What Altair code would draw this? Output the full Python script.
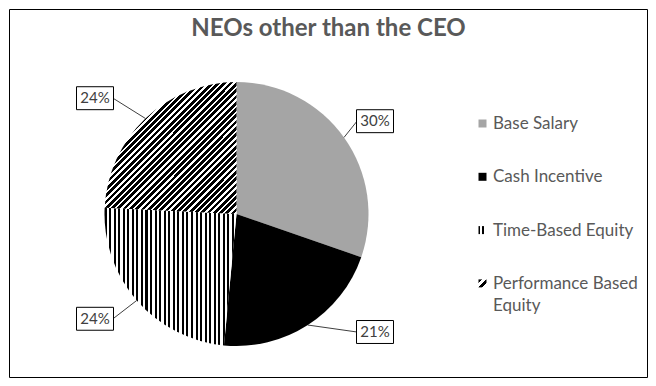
import altair as alt
import pandas as pd

# ---- data ----
categories = ["Base Salary", "Cash Incentive", "Time-Based Equity", "Performance Based Equity"]
values = [30, 21, 24, 24]
title_text = "NEOs other than the CEO"

df = pd.DataFrame({"category": categories, "value": values, "idx": list(range(len(categories)))})

# ---- layout (pixels inside the chart) ----
OFF = 9
W, H = 638, 368
CX, CY, R = 236.5 - OFF, 214 - OFF, 132
FONT = "Lato"


def stripes(n, duty, x2, y2, dark="#000000", light="#FFFFFF"):
    stops = []
    for i in range(n):
        a, b, c = i / n, (i + duty) / n, (i + 1) / n
        stops += [
            {"offset": round(a, 5), "color": dark},
            {"offset": round(b, 5), "color": dark},
            {"offset": round(b, 5), "color": light},
            {"offset": round(c, 5), "color": light},
        ]
    return {"gradient": "linear", "x1": 0, "y1": 0, "x2": x2, "y2": y2, "stops": stops}


slice_fill = {
    "Base Salary": "#A5A5A5",
    "Cash Incentive": "#000000",
    "Time-Based Equity": stripes(29, 0.45, 1, 0),
    "Performance Based Equity": stripes(42, 0.6, 1, 1),
}
legend_fill = {
    "Base Salary": "#A5A5A5",
    "Cash Incentive": "#000000",
    "Time-Based Equity": stripes(2, 0.3, 1, 0),
    "Performance Based Equity": stripes(2, 0.45, 1, 1),
}

base = (
    alt.Chart(df)
    .transform_joinaggregate(total="sum(value)")
    .transform_window(cum="sum(value)", sort=[alt.SortField("idx")], frame=[None, 0])
    .transform_calculate(
        a0="2*PI*(datum.cum - datum.value)/datum.total",
        a1="2*PI*datum.cum/datum.total",
        pct="format(datum.value/datum.total, '.0%')",
    )
    .transform_calculate(mid="(datum.a0 + datum.a1)/2")
    .transform_calculate(side="sin(datum.mid) > 0 ? 1 : -1")
    .transform_calculate(
        lx=f"{CX} + (datum.side > 0 ? 138.5 : -141.5)",
        ly=f"{CY} + clamp(-160*cos(datum.mid), -118, 118)",
        px=f"{CX} + {R}*sin(datum.mid)",
        py=f"{CY} - {R}*cos(datum.mid)",
    )
    .transform_calculate(ex="datum.lx - datum.side*18")
)

layers = []
for cat in categories:
    layers.append(
        base.transform_filter(alt.datum.category == cat)
        .mark_arc(fill=slice_fill[cat], outerRadius=R)
        .encode(
            theta=alt.Theta("a0:Q", scale=None),
            theta2="a1:Q",
            x=alt.value(CX),
            y=alt.value(CY),
        )
    )

leaders = base.mark_rule(color="#404040", strokeWidth=1).encode(
    x=alt.X("px:Q", scale=None),
    y=alt.Y("py:Q", scale=None),
    x2="ex:Q",
    y2="ly:Q",
)
boxes = base.mark_point(
    shape="M-1,-0.62H1V0.62H-1Z", size=37 * 37, filled=True, fill="#FFFFFF",
    stroke="#000000", strokeWidth=1, opacity=1,
).encode(x=alt.X("lx:Q", scale=None), y=alt.Y("ly:Q", scale=None))
labels = base.mark_text(font=FONT, fontSize=15, color="#404040", align="center", baseline="middle").encode(
    x=alt.X("lx:Q", scale=None), y=alt.Y("ly:Q", scale=None), text="pct:N"
)
layers += [leaders, boxes, labels]

leg = alt.Chart(df).transform_calculate(
    sy=f"{123.5 - OFF} + datum.idx*53.3",
    lbl="replace(datum.category, 'Performance Based ', 'Performance Based\\n')",
)
for cat in categories:
    layers.append(
        leg.transform_filter(alt.datum.category == cat)
        .mark_point(shape="square", size=64, filled=True, fill=legend_fill[cat], opacity=1)
        .encode(x=alt.value(482.5 - OFF), y=alt.Y("sy:Q", scale=None))
    )
layers.append(
    leg.transform_calculate(ty="datum.sy + 5.5")
    .mark_text(font=FONT, fontSize=17, color="#595959", align="left", baseline="alphabetic",
               lineBreak="\n", lineHeight=22)
    .encode(x=alt.value(493 - OFF), y=alt.Y("ty:Q", scale=None), text="lbl:N")
)

title = alt.Chart(pd.DataFrame({"t": [title_text]})).mark_text(
    font=FONT, fontSize=24, fontWeight="bold", color="#595959", align="center", baseline="alphabetic"
).encode(x=alt.value(328.5 - OFF), y=alt.value(36 - OFF), text="t:N")
layers.append(title)

chart = (
    alt.layer(*layers)
    .properties(width=W, height=H, autosize="none", padding=1, background="#FFFFFF")
    .configure_view(stroke="#000000", strokeWidth=1)
)

chart.save("out.html", embed_options={"renderer": "svg", "actions": False})
